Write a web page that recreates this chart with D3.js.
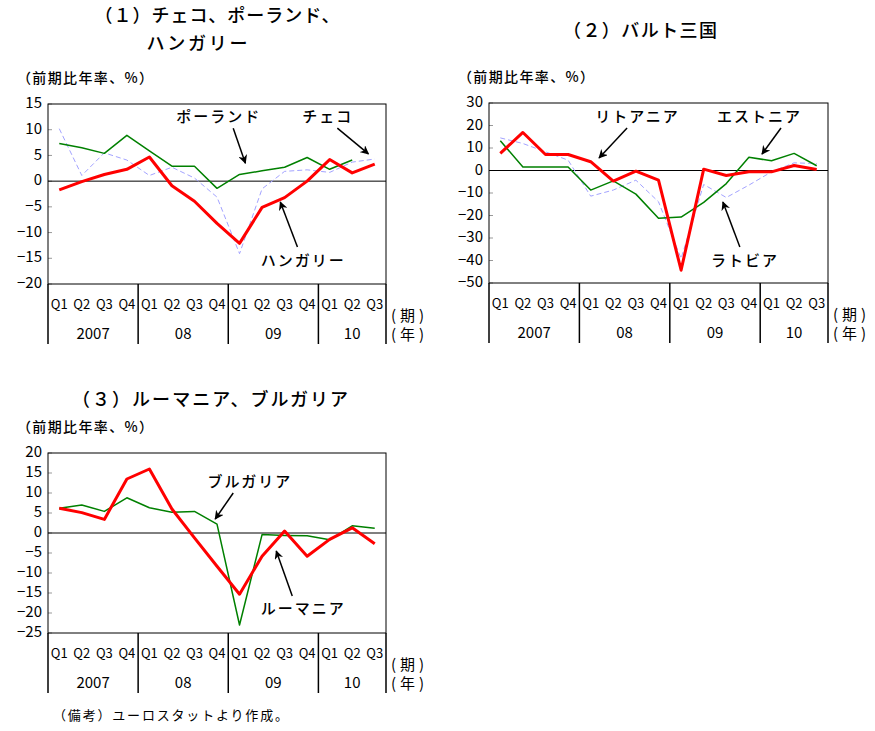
<!DOCTYPE html>
<html>
<head>
<meta charset="utf-8">
<script src="https://cdn.jsdelivr.net/npm/d3@7"></script>
<style>
  body { margin: 0; background: #fff; }
  svg text { font-family: "Noto Sans CJK JP", "DejaVu Sans", sans-serif; fill: #000; }
</style>
</head>
<body>
<svg id="chart" width="875" height="731"></svg>
<script>
// quarters, 2007Q1 .. 2010Q3
var quarters = ["Q1","Q2","Q3","Q4","Q1","Q2","Q3","Q4","Q1","Q2","Q3","Q4","Q1","Q2","Q3"];
var years = ["2007","08","09","10"];

// (1)
var czech   = [10.2, 1.1, 5.5, 4.1, 1.1, 2.7, 0.6, -3.1, -14.1, -1.5, 1.9, 2.2, 1.7, 3.7, 4.3];
var poland  = [7.3, 6.5, 5.4, 8.9, 5.9, 2.9, 2.9, -1.4, 1.3, 2.0, 2.7, 4.6, 2.3, 4.1];
var hungary = [-1.7, -0.1, 1.3, 2.3, 4.7, -0.9, -3.9, -8.2, -12.1, -5.1, -3.2, 0.0, 4.2, 1.6, 3.3];

// (2)
var latvia    = [14.5, 12.0, 8.3, 4.6, -11.4, -8.7, -4.3, -13.9, -39.1, -6.2, -12.0, -6.5, -0.6, 3.4, 3.1];
var estonia   = [13.2, 1.6, 1.6, 1.6, -8.7, -4.6, -10.5, -21.2, -20.7, -14.2, -5.8, 5.9, 4.3, 7.6, 2.1];
var lithuania = [7.6, 16.9, 7.1, 7.1, 3.9, -4.7, -0.3, -4.3, -44.3, 0.6, -2.2, -0.6, -0.6, 2.2, 0.4];

// (3)
var bulgaria = [6.2, 7.0, 5.4, 8.8, 6.3, 5.2, 5.4, 2.2, -23.0, -0.4, -0.6, -0.7, -1.7, 1.8, 1.2];
var romania  = [6.2, 5.1, 3.4, 13.5, 16.0, 6.0, -1.2, -8.3, -15.3, -5.8, 0.5, -5.8, -1.6, 1.3, -2.7];

var svg = d3.select("#chart");

var defs = svg.append("defs");
defs.append("marker")
  .attr("id", "arr")
  .attr("viewBox", "0 0 10 10")
  .attr("refX", 9).attr("refY", 5)
  .attr("markerWidth", 9).attr("markerHeight", 9)
  .attr("markerUnits", "userSpaceOnUse")
  .attr("orient", "auto")
  .append("path")
  .attr("d", "M0,0 L10,5 L0,10 L3,5 Z")
  .attr("fill", "#000");

var styles = {
  red:   { stroke: "#ff0000", width: 3,   dash: null },
  green: { stroke: "#008000", width: 1.5, dash: null },
  dash:  { stroke: "#a3a3ff", width: 1,   dash: "5,3" }
};

function panel(cfg) {
  var x = d3.scaleBand().domain(d3.range(quarters.length)).range([cfg.left, cfg.right]);
  var y = d3.scaleLinear().domain(cfg.domain).range([cfg.bottom, cfg.top]);
  var g = svg.append("g");
  var cx = function(i) { return x(i) + x.bandwidth() / 2; };

  // titles
  cfg.title.forEach(function(t) {
    g.append("text").attr("x", t[0]).attr("y", t[1])
      .attr("text-anchor", "middle").attr("dominant-baseline", "middle")
      .attr("font-size", 18).attr("font-weight", 500)
      .attr("textLength", t[3]).attr("lengthAdjust", "spacing")
      .text(t[2]);
  });
  g.append("text").attr("x", cfg.left - 31).attr("y", cfg.top - 25)
    .attr("dominant-baseline", "middle").attr("font-size", 14).attr("font-weight", 500)
    .attr("textLength", 136).attr("lengthAdjust", "spacing")
    .text("（前期比年率、%）");

  // y axis
  var ticks = d3.range(cfg.domain[0], cfg.domain[1] + 0.001, cfg.step);
  g.selectAll(".yt").data(ticks).enter().append("line")
    .attr("x1", cfg.left).attr("x2", cfg.left + 4)
    .attr("y1", function(d) { return y(d); }).attr("y2", function(d) { return y(d); })
    .attr("stroke", "#999").attr("stroke-width", 1);
  g.selectAll(".yl").data(ticks).enter().append("text")
    .attr("x", cfg.left - 6).attr("y", function(d) { return y(d); })
    .attr("text-anchor", "end").attr("dominant-baseline", "middle")
    .attr("font-size", 15)
    .text(function(d) { return d < 0 ? "−" + Math.abs(d) : d; });

  // zero line
  g.append("line").attr("x1", cfg.left).attr("x2", cfg.right)
    .attr("y1", y(0)).attr("y2", y(0)).attr("stroke", "#000").attr("stroke-width", 1);

  // series
  var line = d3.line().x(function(d, i) { return cx(i); }).y(function(d) { return y(d); });
  cfg.series.forEach(function(s) {
    var st = styles[s.style];
    g.append("path").attr("d", line(s.values))
      .attr("fill", "none").attr("stroke", st.stroke)
      .attr("stroke-width", st.width)
      .attr("stroke-dasharray", st.dash)
      .attr("stroke-linejoin", "round");
  });

  // frame
  g.append("rect").attr("x", cfg.left).attr("y", cfg.top)
    .attr("width", cfg.right - cfg.left).attr("height", cfg.bottom - cfg.top)
    .attr("fill", "none").attr("stroke", "#000").attr("stroke-width", 1);

  // category axis
  var seps = [0, 4, 8, 12];
  seps.forEach(function(i) {
    g.append("line").attr("x1", x(i)).attr("x2", x(i))
      .attr("y1", cfg.bottom).attr("y2", cfg.bottom + 60)
      .attr("stroke", "#000").attr("stroke-width", 1.5);
  });
  g.append("line").attr("x1", cfg.right).attr("x2", cfg.right)
    .attr("y1", cfg.bottom).attr("y2", cfg.bottom + 60)
    .attr("stroke", "#000").attr("stroke-width", 1.5);

  g.selectAll(".q").data(quarters).enter().append("text")
    .attr("x", function(d, i) { return cx(i); }).attr("y", cfg.bottom + 21)
    .attr("text-anchor", "middle").attr("dominant-baseline", "middle")
    .attr("font-size", 13)
    .text(function(d) { return d; });

  years.forEach(function(yr, k) {
    var a = x(seps[k]);
    var b = k < 3 ? x(seps[k + 1]) : cfg.right;
    g.append("text").attr("x", (a + b) / 2).attr("y", cfg.bottom + 51)
      .attr("text-anchor", "middle").attr("dominant-baseline", "middle")
      .attr("font-size", 15).text(yr);
  });
  ["(期)", "(年)"].forEach(function(u, k) {
    g.append("text").attr("x", cfg.right + 5).attr("y", cfg.bottom + 33 + k * 19)
      .attr("dominant-baseline", "middle").attr("font-size", 15)
      .attr("textLength", 33).attr("lengthAdjust", "spacing")
      .text(u);
  });

  // annotations: label and arrow in data coordinates (quarter index, value)
  cfg.notes.forEach(function(n) {
    var px = function(i) { return x(0) + x.bandwidth() * (i + 0.5); };
    g.append("text").attr("x", px(n.at[0])).attr("y", y(n.at[1]))
      .attr("text-anchor", "middle").attr("dominant-baseline", "middle")
      .attr("font-size", 15).attr("font-weight", 500).attr("letter-spacing", 2)
      .text(n.label);
    g.append("line")
      .attr("x1", px(n.from[0])).attr("y1", y(n.from[1]))
      .attr("x2", px(n.to[0])).attr("y2", y(n.to[1]))
      .attr("stroke", "#000").attr("stroke-width", 1.5)
      .attr("marker-end", "url(#arr)");
  });
}

panel({
  left: 48, right: 386, top: 104, bottom: 284, domain: [-20, 15], step: 5,
  title: [[217, 17, "（１）チェコ、ポーランド、", 245], [197, 45, "ハンガリー", 101]],
  series: [
    { values: czech, style: "dash" },
    { values: poland, style: "green" },
    { values: hungary, style: "red" }
  ],
  notes: [
    { label: "ポーランド", at: [7.08, 12.3], from: [7.72, 10.3], to: [8.26, 3.5] },
    { label: "チェコ", at: [11.92, 12.3], from: [12.34, 10.3], to: [13.72, 5.3] },
    { label: "ハンガリー", at: [10.83, -15.7], from: [10.57, -12.8], to: [9.81, -4.05] }
  ]
});

panel({
  left: 489, right: 828, top: 103, bottom: 283, domain: [-50, 30], step: 10,
  title: [[640, 32, "（２）バルト三国", 154]],
  series: [
    { values: latvia, style: "dash" },
    { values: estonia, style: "green" },
    { values: lithuania, style: "red" }
  ],
  notes: [
    { label: "リトアニア", at: [6.07, 23.3], from: [5.61, 18.9], to: [4.37, 5.6] },
    { label: "エストニア", at: [11.47, 23.3], from: [12.42, 18.9], to: [11.58, 7.3] },
    { label: "ラトビア", at: [10.83, -40.7], from: [10.6, -34], to: [9.85, -14] }
  ]
});

panel({
  left: 48, right: 386, top: 453, bottom: 633, domain: [-25, 20], step: 5,
  title: [[210, 401, "（３）ルーマニア、ブルガリア", 276]],
  series: [
    { values: bulgaria, style: "green" },
    { values: romania, style: "red" }
  ],
  notes: [
    { label: "ブルガリア", at: [8.46, 12.5], from: [7.72, 10], to: [6.92, 3.5] },
    { label: "ルーマニア", at: [10.83, -19.25], from: [10.34, -15.75], to: [9.63, -4.5] }
  ]
});

svg.append("text").attr("x", 53).attr("y", 716)
  .attr("dominant-baseline", "middle").attr("font-size", 13)
  .attr("textLength", 235).attr("lengthAdjust", "spacing")
  .text("（備考）ユーロスタットより作成。");
</script>
</body>
</html>
